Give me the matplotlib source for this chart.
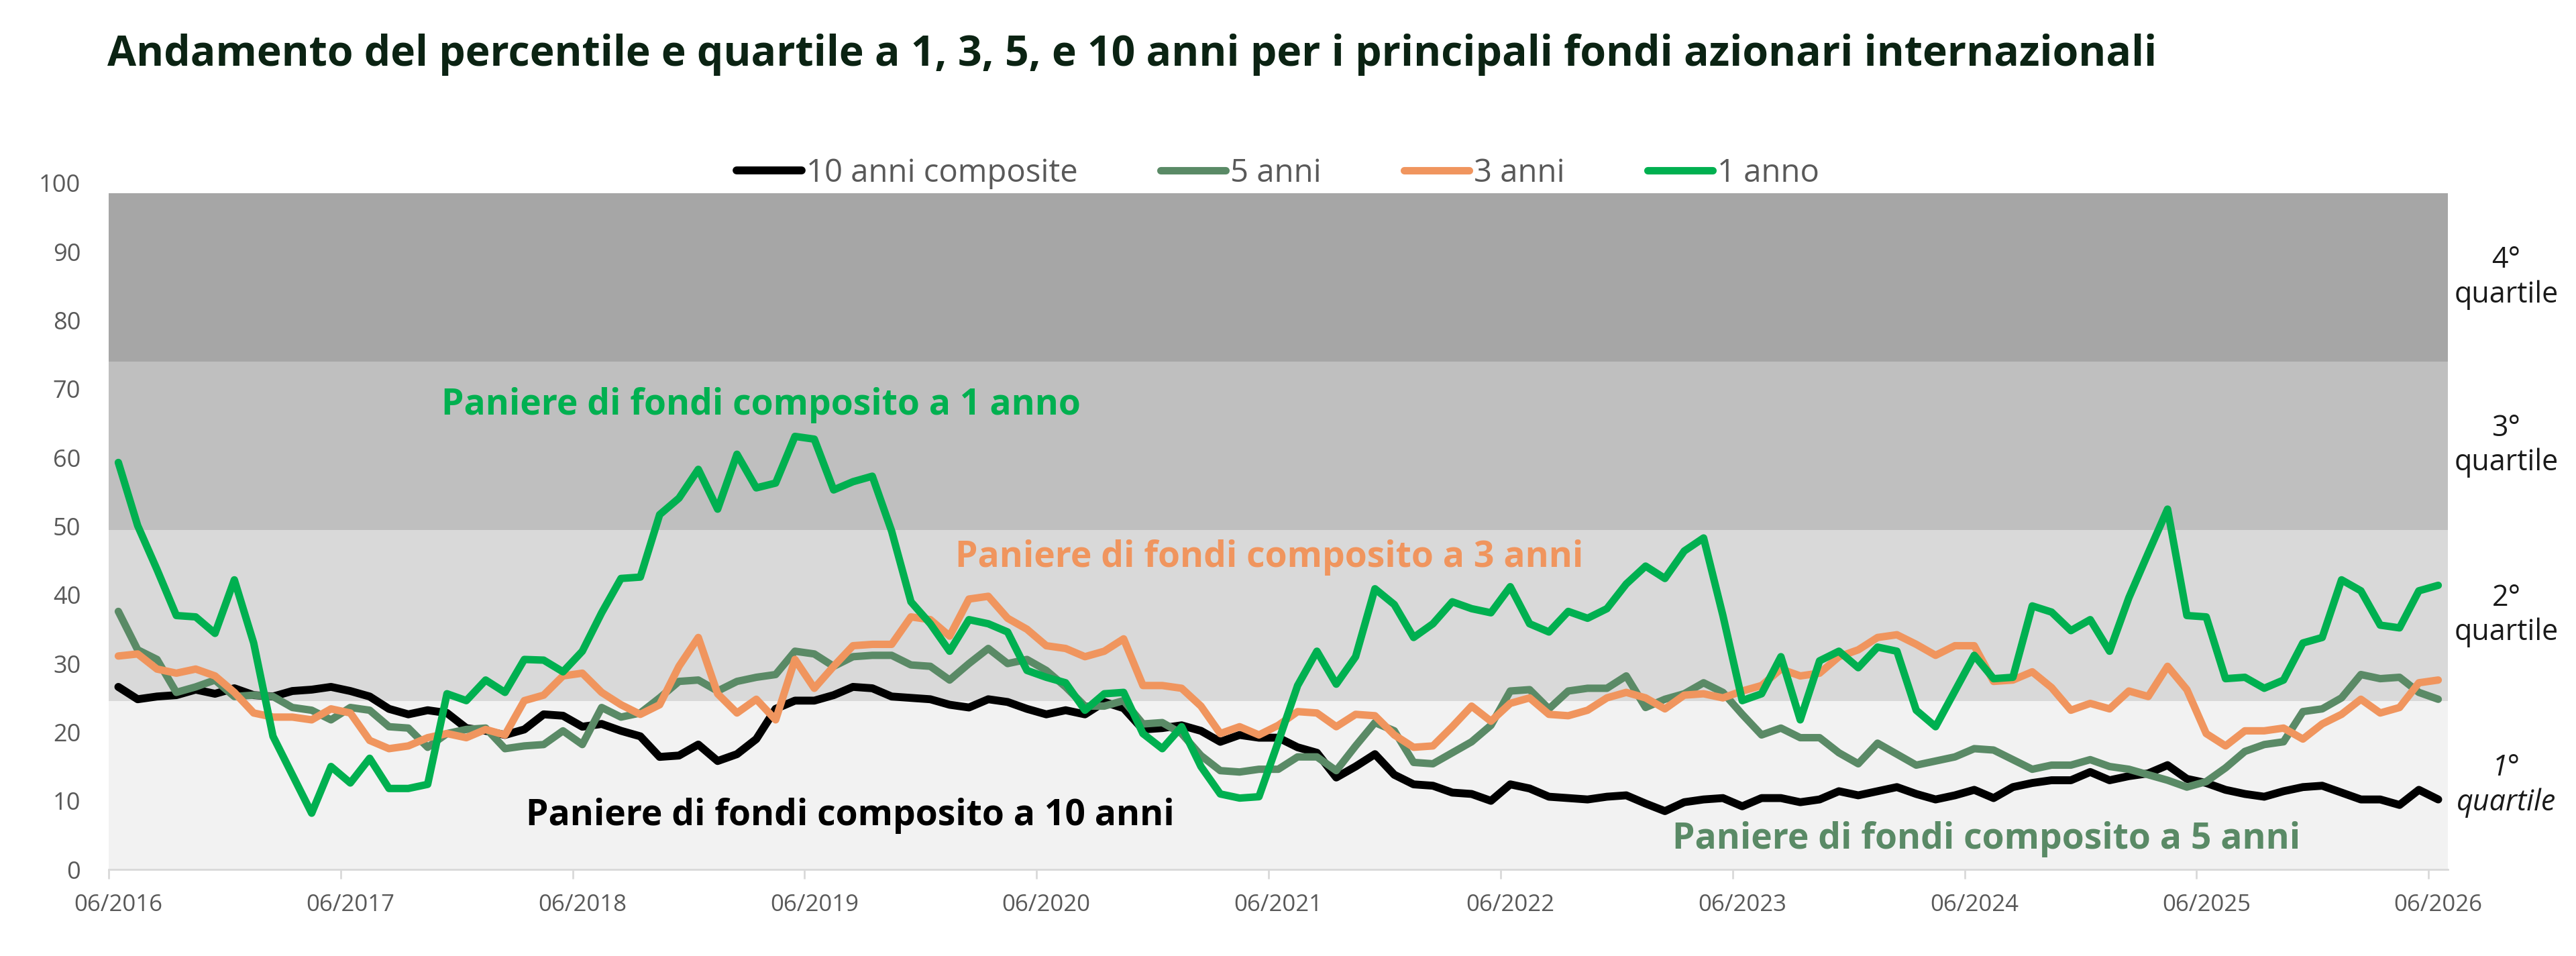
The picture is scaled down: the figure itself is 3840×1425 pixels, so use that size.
import matplotlib
matplotlib.use("Agg")
import matplotlib.pyplot as plt
from matplotlib.ticker import FixedLocator, NullFormatter, FixedFormatter

plt.rcParams['font.family'] = ['Open Sans', 'DejaVu Sans']

# ---- data ----
tick_labels = ["06/2016", "06/2017", "06/2018", "06/2019", "06/2020", "06/2021",
               "06/2022", "06/2023", "06/2024", "06/2025", "06/2026"]

series_names = ["10 anni composite", "5 anni", "3 anni", "1 anno"]

anni10 = [26.6, 24.8, 25.2, 25.4, 26.2, 25.6, 26.4, 25.4, 25.2, 26.0, 26.2, 26.6,
          26.0, 25.2, 23.4, 22.6, 23.2, 22.8, 20.6, 20.2, 19.6, 20.4, 22.6, 22.4,
          20.8, 21.2, 20.2, 19.4, 16.4, 16.6, 18.2, 15.8, 16.8, 19.0, 23.4, 24.6,
          24.6, 25.4, 26.6, 26.4, 25.2, 25.0, 24.8, 24.0, 23.6, 24.8, 24.4, 23.4,
          22.6, 23.2, 22.6, 24.4, 23.5, 20.4, 20.6, 21.0, 20.2, 18.6, 19.6, 19.2,
          19.2, 17.8, 17.0, 13.4, 15.0, 16.8, 13.8, 12.4, 12.2, 11.2, 11.0, 10.0,
          12.4, 11.8, 10.6, 10.4, 10.2, 10.6, 10.8, 9.6, 8.5, 9.8, 10.2, 10.4,
          9.2, 10.4, 10.4, 9.8, 10.2, 11.4, 10.8, 11.4, 12.0, 11.0, 10.2, 10.8,
          11.6, 10.4, 12.0, 12.6, 13.0, 13.0, 14.2, 13.0, 13.6, 14.0, 15.2, 13.2,
          12.6, 11.6, 11.0, 10.6, 11.4, 12.0, 12.2, 11.2, 10.2, 10.2, 9.4, 11.6,
          10.2]

anni5 = [37.6, 32.0, 30.6, 25.8, 26.6, 27.6, 25.2, 25.4, 25.2, 23.6, 23.2, 21.8,
         23.6, 23.2, 20.8, 20.6, 17.8, 19.8, 20.4, 20.6, 17.6, 18.0, 18.2, 20.2,
         18.2, 23.6, 22.2, 22.8, 25.0, 27.4, 27.6, 26.0, 27.4, 28.0, 28.4, 31.8,
         31.4, 29.6, 31.0, 31.2, 31.2, 29.8, 29.6, 27.6, 30.0, 32.2, 30.0, 30.6,
         29.0, 26.6, 23.8, 23.8, 24.6, 21.2, 21.4, 19.8, 16.6, 14.4, 14.2, 14.6,
         14.6, 16.4, 16.4, 14.4, 18.0, 21.4, 20.2, 15.6, 15.4, 17.0, 18.6, 21.0,
         26.0, 26.2, 23.4, 26.0, 26.4, 26.4, 28.2, 23.6, 24.8, 25.6, 27.2, 25.8,
         22.6, 19.6, 20.6, 19.2, 19.2, 17.0, 15.4, 18.4, 16.8, 15.2, 15.8, 16.4,
         17.6, 17.4, 16.0, 14.6, 15.2, 15.2, 16.0, 15.0, 14.6, 13.8, 13.0, 12.0,
         12.8, 14.8, 17.2, 18.2, 18.6, 23.0, 23.4, 25.0, 28.4, 27.8, 28.0, 25.8,
         24.8]

anni3 = [31.1, 31.4, 29.2, 28.6, 29.2, 28.2, 25.8, 22.8, 22.2, 22.2, 21.8, 23.4,
         22.8, 18.8, 17.6, 18.0, 19.2, 19.8, 19.2, 20.4, 19.6, 24.6, 25.4, 28.2,
         28.6, 25.8, 24.0, 22.6, 24.0, 29.6, 33.8, 25.6, 22.8, 24.8, 21.8, 30.6,
         26.4, 29.6, 32.6, 32.8, 32.8, 36.8, 36.4, 34.0, 39.4, 39.8, 36.6, 35.0,
         32.6, 32.2, 31.0, 31.8, 33.6, 26.8, 26.8, 26.4, 23.8, 19.8, 20.8, 19.6,
         21.0, 23.0, 22.8, 20.8, 22.6, 22.4, 19.6, 17.8, 18.0, 20.8, 23.8, 21.6,
         24.2, 25.0, 22.6, 22.4, 23.2, 25.0, 25.8, 25.0, 23.4, 25.4, 25.6, 25.0,
         26.0, 26.8, 29.2, 28.2, 28.6, 31.0, 32.0, 33.8, 34.2, 32.8, 31.2, 32.6,
         32.6, 27.4, 27.6, 28.8, 26.5, 23.2, 24.2, 23.4, 26.0, 25.2, 29.6, 26.2,
         19.8, 18.0, 20.2, 20.2, 20.6, 19.0, 21.2, 22.6, 24.8, 22.8, 23.6, 27.2,
         27.6]

anno1 = [59.3, 50.1, 43.7, 37.0, 36.8, 34.4, 42.2, 33.0, 19.4, 13.8, 8.2, 15.0,
         12.6, 16.2, 11.8, 11.8, 12.4, 25.6, 24.6, 27.6, 25.8, 30.6, 30.5, 28.8,
         31.8, 37.4, 42.4, 42.6, 51.7, 54.1, 58.3, 52.5, 60.5, 55.6, 56.3, 63.1,
         62.7, 55.3, 56.5, 57.3, 49.3, 39.0, 35.8, 31.8, 36.4, 35.8, 34.6, 29.0,
         28.0, 27.2, 23.2, 25.6, 25.8, 19.8, 17.6, 20.8, 15.0, 11.0, 10.4, 10.6,
         18.6, 26.8, 31.8, 27.0, 31.0, 40.9, 38.6, 33.8, 35.8, 39.0, 38.0, 37.4,
         41.2, 35.8, 34.6, 37.6, 36.6, 38.0, 41.6, 44.2, 42.4, 46.4, 48.3, 37.0,
         24.6, 25.6, 31.0, 21.8, 30.4, 31.8, 29.4, 32.4, 31.8, 23.2, 20.8, 26.0,
         31.2, 27.8, 28.0, 38.4, 37.5, 34.8, 36.4, 31.8, 39.6, 46.1, 52.5, 37.0,
         36.8, 27.8, 28.0, 26.4, 27.6, 33.0, 33.8, 42.2, 40.6, 35.6, 35.2, 40.6,
         41.4]

# quartile bands (lower, upper) and labels
band_edges = [0, 24.5, 49.5, 74.0, 98.5]
band_labels = ["1°\nquartile", "2°\nquartile", "3°\nquartile", "4°\nquartile"]

annotations = ["Paniere di fondi composito a 1 anno",
               "Paniere di fondi composito a 3 anni",
               "Paniere di fondi composito a 10 anni",
               "Paniere di fondi composito a 5 anni"]

# ---- styles ----
band_colors = ["#f2f2f2", "#d9d9d9", "#bfbfbf", "#a6a6a6"]
line_colors = ["#000000", "#5a8a66", "#f0955e", "#00b050"]
title_color = "#0b2313"
text_gray = "#595959"

W, H = 3840, 1425
fig = plt.figure(figsize=(W / 100, H / 100), dpi=100)
ax = fig.add_axes([162 / W, 129 / H, (3649 - 162) / W, (1296 - 273) / H])

n = len(anno1)
x = list(range(n))

for k in range(4):
    ax.axhspan(band_edges[k], band_edges[k + 1], color=band_colors[k], lw=0, zorder=0)

series = [anni10, anni5, anni3, anno1]
lws = [8.5, 8, 8, 8]
for s, c, lw, name in zip(series, line_colors, lws, series_names):
    ax.plot(x, s, color=c, lw=lw, label=name, solid_joinstyle='round',
            solid_capstyle='round', zorder=3)

ax.set_xlim(-0.5, n - 0.5)
ax.set_ylim(0, 100)

for sp in ['top', 'right', 'left']:
    ax.spines[sp].set_visible(False)
ax.spines['bottom'].set_color('#d9d9d9')
ax.spines['bottom'].set_linewidth(2)

# x axis: tick marks at category boundaries, labels at category centres
lab_pos = [12 * k for k in range(len(tick_labels))]
mark_pos = [12 * k - 0.5 for k in range(len(tick_labels))]
ax.xaxis.set_major_locator(FixedLocator(mark_pos))
ax.xaxis.set_major_formatter(NullFormatter())
ax.xaxis.set_minor_locator(FixedLocator(lab_pos))
ax.xaxis.set_minor_formatter(FixedFormatter(tick_labels))
ax.tick_params(axis='x', which='major', length=10, width=2, color='#d9d9d9')
ax.tick_params(axis='x', which='minor', length=0, pad=26, labelsize=25,
               labelcolor=text_gray)

ax.set_yticks(range(0, 101, 10))
ax.tick_params(axis='y', length=0, pad=30, labelsize=26, labelcolor=text_gray)

# title
fig.text(160 / W, 1 - 98 / H,
         "Andamento del percentile e quartile a 1, 3, 5, e 10 anni per i principali fondi azionari internazionali",
         fontsize=45, fontweight='bold', color=title_color, va='baseline', ha='left')

# legend
leg = fig.legend(loc='center', bbox_to_anchor=(1905 / W, 1 - 258 / H), ncol=4,
                 frameon=False, fontsize=34, handlelength=2.05, handletextpad=0.15,
                 columnspacing=2.62, labelcolor=text_gray)

# quartile labels at right
for k in range(4):
    mid = (band_edges[k] + band_edges[k + 1]) / 2
    yy = ax.transData.transform((0, mid))[1]
    fig.text(3736 / W, yy / H, band_labels[k], ha='center', va='center',
             fontsize=31, color='#1a1a1a', linespacing=1.2,
             style='italic' if k == 0 else 'normal')

# series annotations
ann_pos = [(16.7, 66.3), (43.3, 44.1), (21.1, 6.5), (80.4, 3.0)]
ann_cols = ["#00b050", "#f0955e", "#000000", "#5a8a66"]
for t, (px, py), c in zip(annotations, ann_pos, ann_cols):
    ax.text(px, py, t, color=c, fontsize=38.5, fontweight='bold', ha='left',
            va='baseline', zorder=5)

fig.savefig("out.png", dpi=100)
